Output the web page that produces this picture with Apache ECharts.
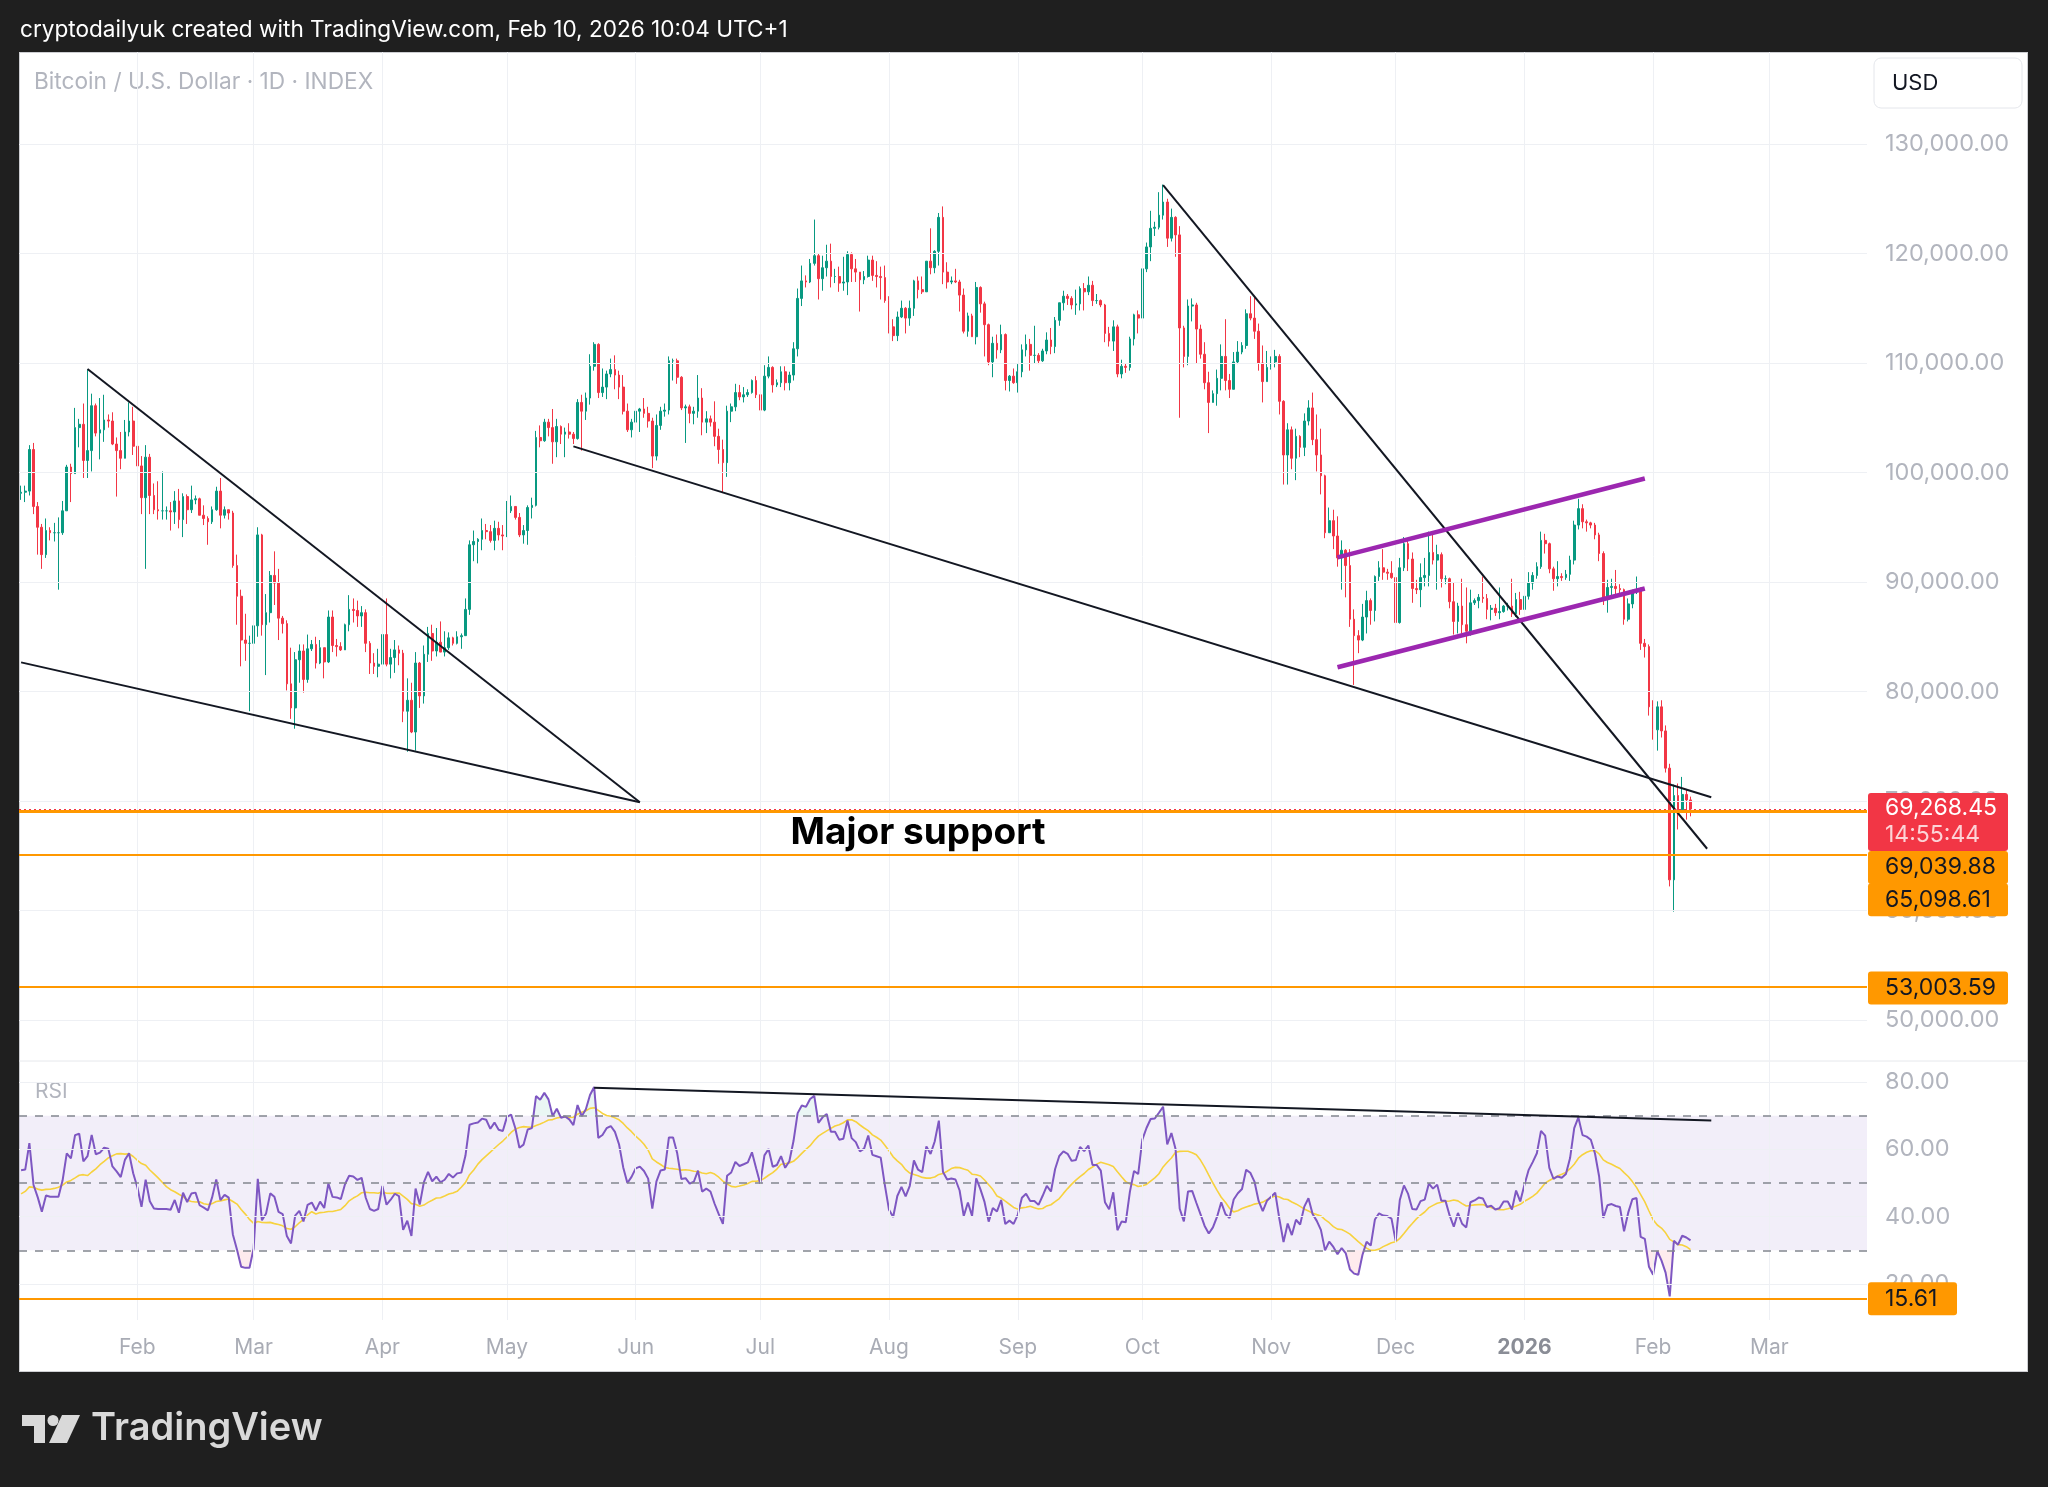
<!DOCTYPE html>
<html><head><meta charset="utf-8">
<script src="https://cdn.jsdelivr.net/npm/echarts@6/dist/echarts.min.js"></script>
<style>
html,body{margin:0;padding:0;background:#1f1f1f;width:2048px;height:1487px;overflow:hidden}
#panel{position:absolute;left:19px;top:52px;width:2009px;height:1320px;background:#fff;border:1px solid #cdced2;box-sizing:border-box}
#chart{position:absolute;left:0;top:0;width:2048px;height:1487px}
</style></head><body><div id="panel"></div><div id="chart"></div>
<script>
// ---------------- DATA (prices in thousands of USD, daily, from 2025-01-04) ----------------
const firstDate = '2025-01-04';
const categoryCount = 445; // through 2026-03-24 (empty space on the right)
const firstOpenK = 98.1;
// closes before the first visible candle (2024-11-15 .. 2025-01-03), used only for RSI warm-up
const prevCloses = [91.1,90.6,89.8,90.5,92.3,94.3,98.4,98.9,97.7,98.0,93.0,91.9,95.9,95.6,97.5,96.4,
 97.2,95.9,96.0,98.8,97.0,99.9,99.9,101.2,97.4,96.7,101.2,100.0,101.4,101.4,104.3,106.0,106.1,100.0,97.5,97.8,97.2,95.1,94.7,98.7,99.4,95.8,94.2,95.2,93.7,92.8,93.4,
 94.4,96.9,98.1];
const closeK = [
 // Jan 2025 (4-31)
 98.2,98.3,102.1,96.9,95.0,92.5,94.7,94.5,94.5,94.5,96.5,100.5,99.9,104.1,104.4,101.1,102.0,106.1,103.6,103.9,104.8,104.7,102.6,102.0,101.3,103.7,104.7,102.4,
 // Feb
 100.6,97.7,101.4,97.9,96.6,96.5,96.5,96.5,96.4,97.4,95.7,97.8,96.6,97.5,97.6,96.1,95.8,95.5,96.6,98.3,96.1,96.6,96.3,91.5,88.7,84.7,84.4,84.4,
 // Mar
 86.0,94.3,86.1,87.2,90.6,89.9,86.7,86.2,80.7,78.5,82.9,83.7,81.1,83.9,84.3,82.6,84.0,82.7,86.8,84.2,84.1,83.8,86.1,87.5,87.4,86.9,87.2,84.4,82.6,82.3,82.5,
 // Apr
 85.2,82.5,83.1,83.8,83.5,78.2,79.2,76.3,82.6,79.6,83.4,85.3,83.7,84.5,83.6,84.0,84.9,84.4,85.0,85.1,87.5,93.4,93.7,93.9,94.7,94.6,93.8,94.9,94.3,94.2,
 // May
 96.5,96.9,95.9,94.3,94.7,96.8,97.0,103.2,102.9,104.6,104.1,102.8,104.2,103.5,103.7,103.5,103.1,106.4,105.6,106.8,109.7,111.7,107.3,107.8,109.0,109.4,108.9,107.8,105.6,103.9,104.6,
 // Jun
 105.6,105.8,105.4,104.7,101.5,104.3,105.6,105.7,110.2,110.2,108.7,105.9,106.0,105.4,105.6,106.8,104.6,104.9,104.6,103.3,102.1,100.9,105.6,106.0,107.3,106.9,107.1,107.3,108.4,107.1,
 // Jul
 105.7,108.8,109.6,108.0,108.2,109.2,108.2,108.9,111.3,115.9,117.5,117.4,119.1,119.8,117.7,118.7,119.3,117.9,117.9,117.3,117.4,119.9,118.6,118.3,117.6,117.9,119.4,118.0,117.9,117.8,115.7,
 // Aug
 113.3,112.5,114.2,115.0,114.1,115.0,117.5,116.7,116.5,119.3,118.7,120.2,123.3,118.3,117.4,117.5,117.4,116.2,112.9,114.3,112.4,116.9,115.4,113.5,110.1,111.8,111.2,112.6,108.4,108.8,108.2,
 // Sep
 109.2,111.2,111.7,110.7,110.7,110.2,111.1,112.1,111.5,113.9,115.5,116.1,115.9,115.3,115.4,116.8,116.5,117.1,115.7,115.7,115.3,112.7,112.0,113.3,109.0,109.7,109.6,112.2,114.4,114.1,
 // Oct
 118.6,120.6,122.3,122.4,123.5,124.7,121.4,123.3,121.7,113.2,110.6,115.2,115.3,113.1,110.8,108.2,106.4,107.2,108.6,110.6,108.4,107.6,110.1,111.0,111.6,114.5,114.1,112.9,110.0,108.3,109.6,
 // Nov
 110.1,110.6,106.5,101.6,103.9,101.3,103.3,102.3,104.7,105.9,103.0,101.6,99.7,94.5,95.6,94.2,92.2,92.9,91.5,86.6,85.1,84.7,86.8,88.3,87.4,90.5,91.3,90.9,90.8,90.4,
 // Dec
 86.3,91.3,93.5,92.1,89.4,89.3,90.4,90.6,92.7,92.0,92.5,90.3,90.3,88.2,86.4,87.8,86.1,85.5,88.1,88.3,88.6,88.5,87.5,87.6,87.2,87.3,87.8,87.8,87.1,88.4,87.5,
 // Jan 2026
 88.7,89.9,90.6,91.4,93.8,93.5,91.2,90.3,90.5,90.4,90.7,92.0,95.2,96.7,95.5,95.4,95.2,94.3,92.6,88.4,89.5,89.6,89.4,89.3,86.6,88.0,89.1,89.2,84.4,84.1,78.6,
 // Feb 2026 (1-10)
 76.5,78.6,76.4,73.0,62.8,70.5,69.2,70.6,70.1,69.26845
];
const highK = [
 98.8,98.8,102.5,102.7,97.3,95.3,95.8,95.0,95.4,95.9,97.4,100.7,100.8,105.9,104.9,106.3,109.4,107.2,106.3,106.8,107.1,105.3,105.5,103.2,103.7,104.8,106.4,106.0,
 102.8,101.5,102.5,101.7,99.0,99.2,100.1,96.9,97.3,98.3,98.5,98.1,98.0,98.8,97.9,97.7,97.0,96.0,96.9,98.7,99.5,96.9,96.5,96.5,92.5,89.3,87.1,85.1,
 86.6,95.0,94.4,88.9,91.0,92.8,91.2,86.9,86.5,84.0,83.6,84.3,84.3,85.2,84.7,85.0,84.7,84.0,87.4,87.4,84.8,84.5,86.2,88.8,88.5,88.3,87.8,87.5,84.6,83.5,83.9,
 85.6,88.5,83.9,84.7,84.2,83.8,81.2,80.8,83.6,82.7,84.2,85.9,86.1,85.8,86.4,85.5,85.4,85.0,85.5,85.3,88.5,93.8,94.7,94.0,95.8,95.3,95.2,95.6,95.5,95.2,
 97.4,97.9,96.9,96.3,95.2,97.0,97.7,103.8,104.3,104.9,104.9,105.8,104.9,104.3,104.1,104.5,103.7,106.7,107.1,107.3,110.8,111.9,111.8,109.5,109.3,110.4,110.7,109.3,108.9,106.3,104.9,
 105.9,105.9,106.8,106.0,105.0,105.3,106.0,106.3,110.6,110.4,110.4,108.8,106.2,106.2,106.0,108.9,107.7,105.6,105.2,106.5,104.0,103.0,106.1,106.3,108.1,108.0,107.8,107.6,108.5,108.8,
 107.5,109.8,110.6,109.7,108.5,109.7,109.7,109.2,111.9,116.8,118.9,118.0,119.5,123.1,120.0,119.8,120.8,120.9,118.6,118.8,119.7,120.2,120.1,119.5,118.3,118.4,119.8,119.8,119.3,118.8,118.9,
 116.1,114.0,114.7,115.7,115.1,115.7,117.6,117.9,117.9,119.3,122.3,120.3,123.7,124.3,119.2,117.9,118.6,117.6,116.8,114.6,114.5,117.4,117.0,115.6,113.6,112.4,112.6,113.5,112.7,108.9,109.5,
 109.9,111.7,112.6,112.2,113.4,110.9,111.3,112.8,113.2,114.2,115.5,116.6,116.3,116.1,116.7,117.0,117.3,117.9,117.5,116.3,115.8,115.4,113.3,113.9,113.5,110.3,110.0,112.4,114.5,114.8,
 118.7,121.0,123.9,122.9,125.6,126.3,125.0,124.1,123.4,122.5,113.4,115.8,115.9,115.5,113.5,111.9,109.2,107.5,109.4,111.7,114.0,109.0,111.0,112.0,111.9,114.9,116.1,116.0,113.6,111.6,111.1,
 110.6,111.2,110.8,106.6,104.5,104.2,104.0,103.4,105.4,106.6,107.3,105.3,104.0,99.8,96.8,96.6,96.0,93.8,93.0,93.0,87.5,85.6,88.0,89.2,88.5,90.6,91.9,93.0,91.2,91.9,
 90.4,92.2,94.1,94.0,92.7,90.2,91.7,92.2,94.6,94.5,93.4,92.7,90.6,90.4,90.0,88.1,90.3,89.5,89.3,88.5,88.9,90.5,88.9,87.9,88.0,89.5,87.9,88.1,90.3,89.0,89.1,
 88.9,90.9,90.9,91.8,94.6,94.4,93.6,91.4,91.9,90.8,91.1,92.4,95.6,97.6,97.1,95.7,95.5,95.4,94.5,92.8,90.2,90.3,91.1,89.8,89.4,88.5,89.3,90.5,89.5,84.8,84.3,
 79.2,79.1,79.2,76.9,73.4,71.5,71.6,72.2,71.0,70.4
];
const lowK = [
 97.5,97.3,97.9,96.2,92.5,91.2,92.2,93.8,93.7,89.3,94.3,96.5,97.3,99.9,102.3,99.5,99.5,100.1,103.3,101.2,102.8,104.1,102.5,97.8,100.3,101.3,103.3,101.6,
 100.3,96.2,91.2,96.2,96.2,95.7,95.7,95.7,94.7,95.3,94.9,94.1,95.3,96.3,97.1,96.1,95.2,93.4,95.3,96.5,94.9,95.8,95.7,91.3,86.1,82.3,82.8,78.2,
 83.9,85.0,85.1,81.5,86.3,87.9,84.7,85.3,80.1,77.5,76.6,80.8,79.9,80.8,83.7,82.1,82.5,81.2,82.6,83.6,83.2,83.7,83.8,85.5,86.3,85.9,85.9,83.6,81.6,81.6,81.3,
 82.4,82.3,81.2,81.7,82.4,77.2,74.5,76.2,74.6,78.5,78.9,82.7,82.8,83.2,83.6,83.2,83.8,84.2,84.3,83.9,85.1,87.0,91.9,91.7,92.9,93.9,93.6,92.9,93.8,92.9,
 94.1,96.3,95.7,94.1,93.5,93.4,95.8,96.9,102.3,102.8,103.3,100.8,101.4,102.6,101.4,103.1,102.6,103.0,102.0,104.8,106.2,109.3,106.8,106.9,106.7,108.7,107.6,106.7,105.3,103.7,103.2,
 103.9,103.7,105.0,104.1,100.4,101.1,103.9,105.1,105.3,108.4,108.1,105.7,102.7,104.5,104.4,105.0,103.4,103.6,104.2,102.4,100.8,98.2,99.6,104.6,105.6,106.6,106.4,106.9,107.2,106.8,
 105.3,105.6,108.6,107.3,107.8,107.8,107.5,107.5,108.4,110.6,115.2,116.9,117.3,118.9,115.8,116.6,117.9,116.9,117.3,116.5,116.6,116.2,117.4,117.4,114.7,117.2,117.8,117.5,116.9,115.8,115.5,
 112.7,112.0,112.0,114.1,112.7,113.4,114.3,115.9,116.3,116.5,118.1,118.2,118.9,117.2,116.8,117.2,117.3,114.7,112.7,112.4,112.4,111.7,114.6,110.6,109.8,108.7,110.4,110.9,107.5,107.4,108.1,
 107.3,108.7,110.6,109.3,110.0,109.9,110.1,110.8,110.8,110.9,113.4,114.8,115.3,114.9,114.4,114.8,114.8,116.2,115.2,115.4,115.1,111.9,111.5,111.1,108.7,108.6,109.1,109.3,111.6,112.7,
 113.9,118.3,119.3,121.6,122.2,123.1,120.6,121.1,119.7,105.0,109.6,109.8,113.8,110.0,110.4,107.6,103.6,106.4,106.1,107.5,107.5,106.8,107.7,109.9,110.8,111.3,113.9,112.2,109.3,106.4,108.6,
 109.4,109.6,105.3,98.9,98.9,100.3,99.3,101.4,101.5,104.3,102.5,100.1,98.0,94.0,94.6,93.0,91.4,89.3,88.6,85.9,80.6,83.5,84.6,85.3,86.1,86.4,90.1,90.2,90.2,90.3,
 83.8,86.2,91.0,91.0,88.1,88.9,87.7,89.6,89.6,91.6,89.3,89.5,89.8,87.6,85.2,85.3,85.3,84.4,85.1,87.9,87.6,88.1,86.6,86.5,86.9,86.6,87.2,87.4,86.8,86.8,87.0,
 87.2,88.4,89.3,90.3,91.2,92.6,90.8,89.2,89.6,90.1,90.2,90.1,91.6,94.8,94.9,94.6,94.9,93.9,91.9,87.9,87.2,88.8,88.6,88.9,86.1,86.4,87.6,88.9,83.8,83.1,77.8,
 75.6,74.6,75.8,72.6,62.2,59.9,67.4,68.9,68.3,68.6
];
// axis ticks
const priceTicks = [50000,60000,70000,80000,90000,100000,110000,120000,130000];
const rsiTicks = [20,40,60,80];
const rsiLevels = [70,50,30];
const monthStarts = ['2025-02-01','2025-03-01','2025-04-01','2025-05-01','2025-06-01','2025-07-01','2025-08-01','2025-09-01','2025-10-01','2025-11-01','2025-12-01','2026-01-01','2026-02-01','2026-03-01'];
const monthNames = ['Jan','Feb','Mar','Apr','May','Jun','Jul','Aug','Sep','Oct','Nov','Dec'];
// drawings (date, price)
const trendLines = [
 [['2025-01-20',109450],['2025-06-02',69880]],
 [['2025-01-04',82660],['2025-06-02',69880]],
 [['2025-05-17',102390],['2026-02-15',70350]],
 [['2025-10-06',126250],['2026-02-14',65640]]
];
const channelLines = [
 [['2025-11-17',92250],['2026-01-30',99450]],
 [['2025-11-17',82210],['2026-01-30',89410]]
];
const rsiTrend = [['2025-05-22',78.3],['2026-02-15',68.6]];
const lastPrice = 69268.45;
const countdown = '14:55:44';
const levelValues = [69039.88, 65098.61, 53003.59];
const rsiLevelValue = 15.61;
const supportNote = {text:'Major support', date:'2025-08-08', price:67080};
const headerText = 'cryptodailyuk created with TradingView.com, Feb 10, 2026 10:04 UTC+1';
const legendText = 'Bitcoin / U.S. Dollar \u00b7 1D \u00b7 INDEX';

// ---------------- BUILD ----------------
const dates = [];
{ const d0 = Date.parse(firstDate + 'T00:00:00Z'); for (let i = 0; i < categoryCount; i++) dates.push(new Date(d0 + i*864e5).toISOString().slice(0,10)); }
if (closeK.length !== highK.length || closeK.length !== lowK.length) console.error('length mismatch', closeK.length, highK.length, lowK.length);
const candles = closeK.map((c, i) => {
  const o = i === 0 ? firstOpenK : closeK[i-1];
  const h = Math.max(highK[i], o, c), l = Math.min(lowK[i], o, c);
  return [o, c, l, h].map(v => Math.round(v*100000)/100);
});
// RSI(14) of the closes and its 14-period SMA, as the indicator is defined
function rsiCalc(src, n) {
  const out = new Array(src.length).fill(null);
  let g = 0, l = 0;
  for (let i = 1; i <= n; i++) { const d = src[i]-src[i-1]; if (d > 0) g += d; else l -= d; }
  g /= n; l /= n;
  out[n] = l === 0 ? 100 : 100 - 100/(1+g/l);
  for (let i = n+1; i < src.length; i++) {
    const d = src[i]-src[i-1];
    g = (g*(n-1) + Math.max(d,0))/n; l = (l*(n-1) + Math.max(-d,0))/n;
    out[i] = l === 0 ? 100 : 100 - 100/(1+g/l);
  }
  return out;
}
const allCloses = prevCloses.concat(closeK);
const rsiAll = rsiCalc(allCloses, 14);
const maAll = rsiAll.map((v, i) => { if (i < 27) return null; let s = 0; for (let k = i-13; k <= i; k++) s += rsiAll[k]; return s/14; });
const rsi = rsiAll.slice(prevCloses.length).map(v => +v.toFixed(2));
const rsiMa = maAll.slice(prevCloses.length).map(v => +v.toFixed(2));

const fmt2 = v => Number(v).toLocaleString('en-US', {minimumFractionDigits:2, maximumFractionDigits:2});
const monthSet = new Set(monthStarts);
const FONT = 'Inter, "Noto Sans", sans-serif';
const gridColor = '#eef0f4';

const mainGridLines = priceTicks.map(v => ({yAxis: v})).concat(monthStarts.map(d => ({xAxis: d})));
const rsiGridLines = rsiTicks.map(v => ({yAxis: v})).concat(monthStarts.map(d => ({xAxis: d})));

const blackLine = {color:'#131722', width:2, type:'solid'};
const purpleLine = {color:'#9c27b0', width:4.5, type:'solid'};
const boxLabel = (text, dy, bg, color, w) => ({show:true, position:'end', distance:1, offset:[0, dy], formatter:text,
  backgroundColor:bg, color:color, fontFamily:FONT, fontSize:23, lineHeight:25, padding:[4,12,4,17], width:w, borderRadius:3});

const drawItems = [];
trendLines.forEach(t => drawItems.push([{coord:t[0], lineStyle:blackLine}, {coord:t[1], lineStyle:blackLine}]));
channelLines.forEach(t => drawItems.push([{coord:t[0], lineStyle:purpleLine}, {coord:t[1], lineStyle:purpleLine}]));
drawItems.push({yAxis: levelValues[0], lineStyle:{color:'#ff9800', width:3, type:'solid'}, label: boxLabel(fmt2(levelValues[0]), 56, '#ff9800', '#131722', 111)});
drawItems.push({yAxis: levelValues[1], lineStyle:{color:'#ff9800', width:2, type:'solid'}, label: boxLabel(fmt2(levelValues[1]), 45, '#ff9800', '#131722', 111)});
drawItems.push({yAxis: levelValues[2], lineStyle:{color:'#ff9800', width:2, type:'solid'}, label: boxLabel(fmt2(levelValues[2]), 1, '#ff9800', '#131722', 111)});
drawItems.push({yAxis: lastPrice, lineStyle:{color:'#f23645', width:1, type:[2,3]}, label:{show:true, position:'end', distance:1, offset:[0,13],
  formatter:'{a|' + fmt2(lastPrice) + '}\n{b|' + countdown + '}', backgroundColor:'#f23645', padding:[2,12,2,17], borderRadius:3,
  rich:{a:{color:'#ffffff', fontFamily:FONT, fontSize:23, lineHeight:27, width:111}, b:{color:'rgba(255,255,255,0.78)', fontFamily:FONT, fontSize:23, lineHeight:27, width:111}}}});

const noLabel = {show:false};
const option = {
  animation: false,
  backgroundColor: 'transparent',
  textStyle: {fontFamily: FONT},
  grid: [
    {left:19, right:181, top:52, height:1009},
    {left:19, right:181, top:1061, height:259}
  ],
  xAxis: [
    {type:'category', gridIndex:0, data:dates, boundaryGap:true, axisLine:{show:false}, axisTick:{show:false}, axisLabel:{show:false}, splitLine:{show:false}},
    {type:'category', gridIndex:1, data:dates, boundaryGap:true, axisLine:{show:false}, axisTick:{show:false}, splitLine:{show:false},
     axisLabel:{show:true, interval:(i, v) => monthSet.has(v), margin:17, color:'#a9acb5', fontSize:21, fontFamily:FONT,
       formatter:(v) => { const m = +v.slice(5,7); return m === 1 ? '{y|' + v.slice(0,4) + '}' : monthNames[m-1]; },
       rich:{y:{fontWeight:'bold', color:'#8a8d96', fontSize:21, fontFamily:FONT}}}}
  ],
  yAxis: [
    {type:'value', gridIndex:0, position:'right', min:46256, max:138402, axisLine:{show:false}, axisTick:{show:false}, splitLine:{show:false},
     axisLabel:{customValues:priceTicks, formatter:fmt2, color:'#b2b5be', fontSize:23.5, fontFamily:FONT, margin:18}},
    {type:'value', gridIndex:1, position:'right', min:9.31, max:86.24, axisLine:{show:false}, axisTick:{show:false}, splitLine:{show:false},
     axisLabel:{customValues:rsiTicks, formatter:v => Number(v).toFixed(2), color:'#b2b5be', fontSize:23.5, fontFamily:FONT, margin:18}}
  ],
  series: [
    {type:'line', name:'mainGrid', xAxisIndex:0, yAxisIndex:0, data:[], z:1, silent:true, clip:false,
     markLine:{silent:true, symbol:['none','none'], label:noLabel, lineStyle:{color:gridColor, width:1, type:'solid'}, data:mainGridLines}},
    {type:'candlestick', name:'BTCUSD', xAxisIndex:0, yAxisIndex:0, data:candles, barWidth:2.2, z:3,
     itemStyle:{color:'#089981', color0:'#f23645', borderColor:'#089981', borderColor0:'#f23645', borderWidth:1}},
    {type:'line', name:'drawings', xAxisIndex:0, yAxisIndex:0, data:[], z:5, silent:true, clip:false,
     markLine:{silent:true, symbol:['none','none'], label:noLabel, data:drawItems},
     markPoint:{silent:true, symbol:'circle', symbolSize:0, itemStyle:{color:'transparent'},
       data:[{coord:[supportNote.date, supportNote.price], label:{show:true, position:'inside', formatter:supportNote.text, color:'#000000', fontSize:37, fontWeight:'bold', fontFamily:FONT}}]}},
    // RSI pane
    {type:'line', name:'rsiBand', xAxisIndex:1, yAxisIndex:1, data:[], z:1, silent:true, clip:false,
     markArea:{silent:true, itemStyle:{color:'rgba(126,87,194,0.1)'}, data:[[{yAxis:30},{yAxis:70}]]},
     markLine:{silent:true, symbol:['none','none'], label:noLabel, lineStyle:{color:gridColor, width:1, type:'solid'}, data:rsiGridLines}},
    {type:'line', name:'rsiLevels', xAxisIndex:1, yAxisIndex:1, data:[], z:2, silent:true,
     markLine:{silent:true, symbol:['none','none'], label:noLabel, lineStyle:{color:'#83868f', width:1.5, type:[8,8]}, data:rsiLevels.map(v => ({yAxis:v}))}},
    {type:'line', name:'loBase', xAxisIndex:1, yAxisIndex:1, stack:'lo', data:rsi.map(v => Math.min(v,30)), symbol:'none', lineStyle:{opacity:0}, silent:true, z:2},
    {type:'line', name:'loFill', xAxisIndex:1, yAxisIndex:1, stack:'lo', data:rsi.map(v => 30 - Math.min(v,30)), symbol:'none', lineStyle:{opacity:0}, areaStyle:{color:'rgba(242,54,69,0.14)'}, silent:true, z:2},
    {type:'line', name:'hiBase', xAxisIndex:1, yAxisIndex:1, stack:'hi', data:rsi.map(() => 70), symbol:'none', lineStyle:{opacity:0}, silent:true, z:2},
    {type:'line', name:'hiFill', xAxisIndex:1, yAxisIndex:1, stack:'hi', data:rsi.map(v => Math.max(v,70) - 70), symbol:'none', lineStyle:{opacity:0}, areaStyle:{color:'rgba(8,153,129,0.12)'}, silent:true, z:2},
    {type:'line', name:'RSI', xAxisIndex:1, yAxisIndex:1, data:rsi, symbol:'none', lineStyle:{color:'#7e57c2', width:2}, z:4, silent:true},
    {type:'line', name:'RSI MA', xAxisIndex:1, yAxisIndex:1, data:rsiMa, symbol:'none', lineStyle:{color:'#f7d23e', width:1.6}, z:3, silent:true},
    {type:'line', name:'rsiDrawings', xAxisIndex:1, yAxisIndex:1, data:[], z:5, silent:true, clip:false,
     markLine:{silent:true, symbol:['none','none'], label:noLabel, data:[
       [{coord:rsiTrend[0], lineStyle:blackLine}, {coord:rsiTrend[1], lineStyle:blackLine}],
       {yAxis:rsiLevelValue, lineStyle:{color:'#ff9800', width:2, type:'solid'}, label:boxLabel(rsiLevelValue.toFixed(2), 0, '#ff9800', '#131722', 60)}
     ]}}
  ],
  graphic: [
    {type:'text', x:20, y:30, style:{text:headerText, fill:'#ffffff', font:'22.6px ' + FONT, textAlign:'left', textVerticalAlign:'middle', align:'left', verticalAlign:'middle'}},
    {type:'text', x:34, y:82, style:{text:legendText, fill:'#b2b5be', font:'22.7px ' + FONT, textAlign:'left', textVerticalAlign:'middle', align:'left', verticalAlign:'middle'}},
    {type:'text', x:35, y:1092, style:{text:'RSI', fill:'#b2b5be', font:'21px ' + FONT, textAlign:'left', textVerticalAlign:'middle', align:'left', verticalAlign:'middle'}},
    {type:'rect', shape:{x:1874, y:58, width:148, height:50, r:7}, style:{fill:'#ffffff', stroke:'#e4e6eb', lineWidth:1}},
    {type:'text', x:1892, y:83, style:{text:'USD', fill:'#131722', font:'22px ' + FONT, textAlign:'left', textVerticalAlign:'middle', align:'left', verticalAlign:'middle'}},
    {type:'line', shape:{x1:19, y1:1061, x2:2028, y2:1061}, style:{stroke:'#e6e8ec', lineWidth:1}},
    // TradingView logo
    {type:'polygon', shape:{points:[[22,1415],[45,1415],[45,1443],[34,1443],[34,1426],[22,1426]]}, style:{fill:'#d9d9d9'}},
    {type:'circle', shape:{cx:53, cy:1420.5, r:5.5}, style:{fill:'#d9d9d9'}},
    {type:'polygon', shape:{points:[[62,1415],[80,1415],[67,1443],[49,1443]]}, style:{fill:'#d9d9d9'}},
    {type:'text', x:91, y:1429, style:{text:'TradingView', fill:'#d9d9d9', font:'600 38px ' + FONT, textAlign:'left', textVerticalAlign:'middle', align:'left', verticalAlign:'middle'}}
  ]
};
const chart = echarts.init(document.getElementById('chart'), null, {renderer:'canvas', width:2048, height:1487});
chart.setOption(option);
</script></body></html>
